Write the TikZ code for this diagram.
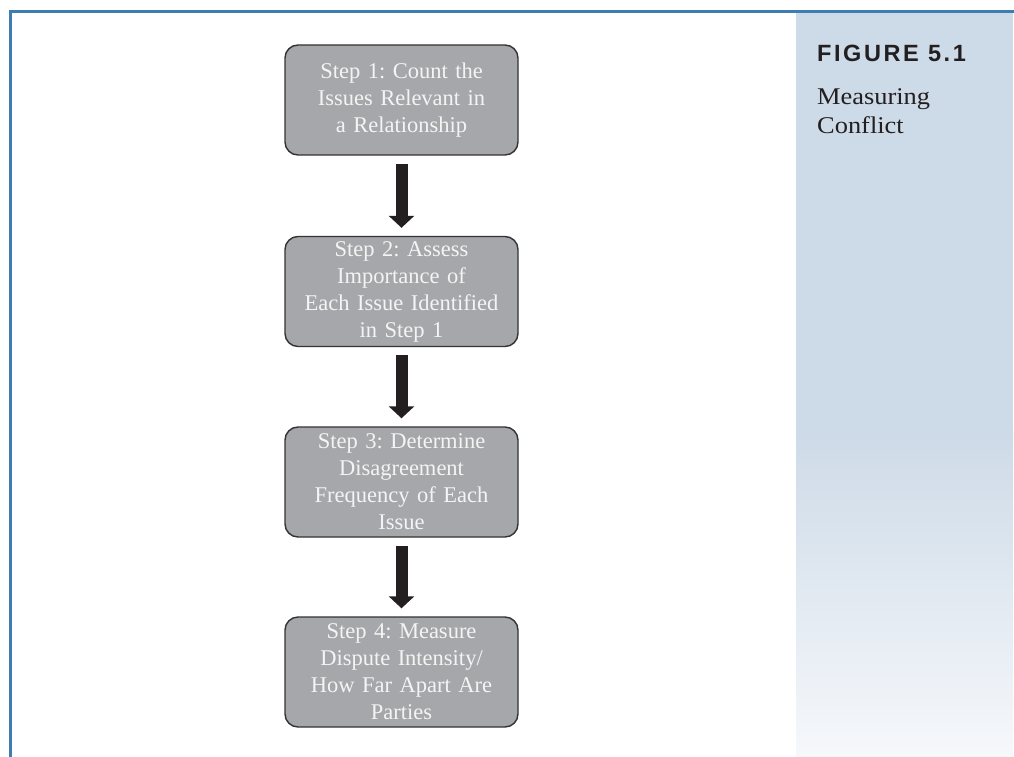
\documentclass[tikz,border=0pt]{standalone}
\usepackage{fontspec}
\setmainfont{Liberation Serif}
\newfontfamily\capsans{Liberation Sans}[LetterSpace=11]
\newfontfamily\titleserif{Liberation Serif}[FakeStretch=1.1]
\usetikzlibrary{arrows.meta}
\definecolor{frameblue}{HTML}{3F7DB0}
\definecolor{panelblue}{HTML}{CDDAE7}
\definecolor{panelfade}{HTML}{F6F8FB}
\definecolor{boxfill}{HTML}{A6A7AA}
\definecolor{boxline}{HTML}{333333}
\definecolor{boxtext}{HTML}{F4F4F4}
\definecolor{arrowink}{HTML}{231F20}
\tikzset{
  stepbox/.style={draw=boxline, line width=1.4pt, fill=boxfill, rounded corners=13pt,
    minimum width=233pt, minimum height=110pt, text width=215pt, align=center,
    text=boxtext, font=\fontsize{22.5}{27}\selectfont\frenchspacing, inner sep=0pt},
  fatarrow/.style={draw=arrowink, line width=12pt,
    -{Triangle[width=25pt,length=12pt]}},
}
\begin{document}
\begin{tikzpicture}[x=1pt,y=-1pt]
\useasboundingbox (0,0) rectangle (1014,757);
% side panel with fading lower part
\fill[panelblue] (796,12) rectangle (1013,431);
\shade[top color=panelblue, bottom color=panelfade] (796,430) rectangle (1013,757);
% frame
\draw[frameblue, line width=3pt] (10.5,757) -- (10.5,11.5) -- (1014,11.5);
% caption
\node[anchor=base west, inner sep=0pt, font=\capsans\bfseries\fontsize{23.5}{26}\selectfont, text=arrowink]
  (figno) at (817,62) {FIGURE 5.1};
\node[anchor=base west, inner sep=0pt, font=\titleserif\fontsize{24}{28}\selectfont, text=arrowink]
  (title1) at (817,105) {Measuring};
\node[anchor=base west, inner sep=0pt, font=\titleserif\fontsize{24}{28}\selectfont, text=arrowink]
  (title2) at (817,133) {Conflict};
% steps
\node[stepbox] (s1) at (401.5,100) {Step 1: Count the\\Issues Relevant in\\a Relationship};
\node[stepbox] (s2) at (401.5,291.5) {Step 2: Assess\\Importance of\\Each Issue Identified\\in Step 1};
\node[stepbox] (s3) at (401.5,482) {Step 3: Determine\\Disagreement\\Frequency of Each\\Issue};
\node[stepbox] (s4) at (401.5,672) {Step 4: Measure\\Dispute Intensity/\\How Far Apart Are\\Parties};
% connectors
\draw[fatarrow] ([yshift=-8pt]s1.south) -- ([yshift=8pt]s2.north);
\draw[fatarrow] ([yshift=-8pt]s2.south) -- ([yshift=8pt]s3.north);
\draw[fatarrow] ([yshift=-8pt]s3.south) -- ([yshift=8pt]s4.north);
\end{tikzpicture}
\end{document}
